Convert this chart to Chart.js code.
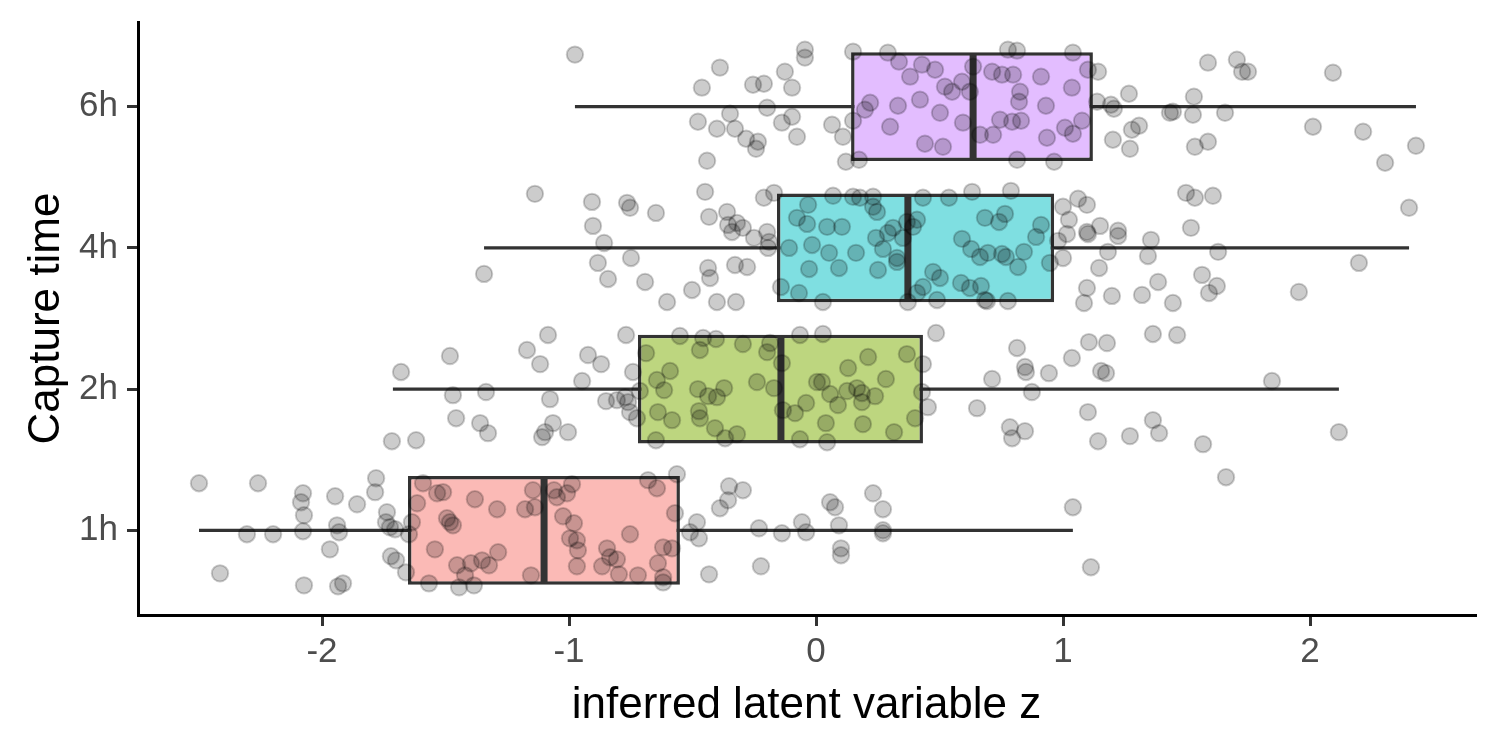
<!DOCTYPE html>
<html>
<head>
<meta charset="utf-8">
<title>Capture time vs inferred latent variable z</title>
<script src="https://cdn.jsdelivr.net/npm/chart.js@4.4.0/dist/chart.umd.min.js"></script>
<style>
  html, body { margin: 0; padding: 0; background: #ffffff; }
  #wrap { width: 1500px; height: 750px; }
</style>
</head>
<body>
<div id="wrap"><canvas id="myChart" width="1500" height="750"></canvas></div>
<script>
// categories (bottom to top) and x tick values
const categories = ["1h", "2h", "4h", "6h"];
const xTicks = [-2, -1, 0, 1, 2];

// box statistics per category
const q1 = [-1.652, -0.721, -0.158, 0.142];
const medians = [-1.101, -0.142, 0.372, 0.636];
const q3 = [-0.551, 0.433, 0.964, 1.121];
const whiskerLow = [-2.498, -1.713, -1.344, -0.976];
const whiskerHigh = [1.040, 2.117, 2.401, 2.429];

// jittered points: z value and vertical jitter (in category units)
const z1h = [-2.498,-2.259,-2.077,-2.085,-2.073,-1.947,-1.858,-1.781,-1.785,-1.737,
  -1.741,-1.725,-1.704,-1.636,-1.648,-2.304,-2.198,-2.077,-1.939,-1.931,
  -1.968,-2.413,-2.073,-1.935,-1.915,-1.721,-1.700,-1.660,-1.591,-1.615,
  -1.534,-1.510,-1.494,-1.482,-1.470,-1.381,-1.291,-1.178,-1.146,-1.138,
  -1.543,-1.453,-1.397,-1.352,-1.324,-1.287,-1.421,-1.567,-1.445,-1.385,
  -1.154,-1.061,-1.049,-1.008,-0.988,-1.024,-0.980,-0.996,-0.968,-0.964,
  -0.753,-0.968,-0.866,-0.846,-0.834,-0.806,-0.798,-0.721,-0.680,-0.644,
  -0.563,-0.571,-0.619,-0.583,-0.640,-0.619,-0.619,
  -0.352,-0.296,-0.356,-0.389,-0.482,-0.510,-0.474,-0.231,-0.138,-0.057,
  -0.040,0.057,0.077,0.231,0.271,0.093,0.271,0.271,0.101,0.101,-0.223,
  -0.433,1.040,1.113,1.660];
const jit1h = [0.333,0.333,0.262,0.199,0.106,0.241,0.184,0.369,0.270,0.128,
  0.057,0.021,0.007,0.057,-0.028,-0.028,-0.028,-0.007,0.035,-0.014,
  -0.135,-0.305,-0.390,-0.397,-0.376,-0.184,-0.213,-0.298,0.333,0.191,
  0.262,0.270,0.085,0.057,0.035,0.220,0.149,0.149,0.284,0.163,
  -0.135,-0.248,-0.234,-0.213,-0.248,-0.156,-0.319,-0.376,-0.404,-0.390,
  -0.319,0.284,0.234,0.262,0.326,0.099,0.050,-0.057,-0.071,-0.142,
  -0.028,-0.255,-0.255,-0.128,-0.191,-0.206,-0.312,-0.319,0.355,0.298,
  0.397,0.121,-0.121,-0.128,-0.234,-0.333,-0.369,
  0.312,0.284,0.213,0.156,0.057,-0.014,-0.057,0.014,-0.021,0.057,
  -0.014,0.199,0.163,0.262,0.149,0.035,0,-0.021,-0.128,-0.177,-0.255,
  -0.312,0.163,-0.262,0.376];

const z2h = [-1.680,-1.482,-1.170,-1.085,-1.117,-0.923,-0.870,-0.769,-0.947,-0.741,
  -1.470,-1.336,-1.077,-1.457,-1.360,-1.328,-1.717,-1.619,-1.109,-1.097,
  -1.065,-1.004,-0.850,-0.806,-0.773,-0.761,-0.753,-0.725,-0.713,-0.688,
  -0.644,-0.591,-0.615,-0.640,-0.583,-0.648,-0.551,-0.470,-0.457,-0.405,
  -0.296,-0.198,-0.186,-0.239,-0.170,-0.478,-0.437,-0.401,-0.372,-0.474,
  -0.470,-0.409,-0.368,-0.320,-0.138,-0.134,-0.085,-0.040,-0.065,0.028,
  0.004,0.024,0.057,0.089,0.130,0.126,0.166,0.186,0.186,0.211,
  0.040,0.045,-0.065,0.190,
  0.486,0.368,0.433,0.283,0.239,0.429,0.453,0.401,0.316,0.814,
  0.846,0.850,0.713,0.943,0.874,1.036,1.105,1.178,1.154,1.174,
  1.364,1.462,0.652,0.785,0.794,0.846,1.101,1.142,1.271,1.364,
  1.389,1.567,1.846,2.117];
const jit2h = [0.121,0.234,0.277,0.383,0.177,0.241,0.177,0.383,0.057,0.121,
  -0.043,-0.021,-0.071,-0.206,-0.241,-0.312,-0.369,-0.362,-0.340,-0.305,
  -0.241,-0.305,-0.085,-0.078,-0.057,-0.092,-0.163,-0.206,-0.014,0.255,
  0.064,0.128,-0.007,-0.163,-0.220,-0.362,0.376,0.277,0.362,0.355,
  0.319,0.262,0.326,0.050,0.007,0,-0.050,-0.057,0.007,-0.156,
  -0.206,-0.277,-0.348,-0.319,0.184,-0.149,-0.170,-0.099,0.383,0.390,
  0.050,0.050,-0.035,-0.113,0.149,-0.014,0.007,-0.028,-0.092,0.227,
  -0.241,-0.376,-0.355,-0.248,
  0.397,0.248,0.177,0.071,-0.050,-0.021,-0.128,-0.206,-0.305,0.291,
  0.156,0.121,0.071,0.113,-0.021,0.220,0.333,0.326,0.128,0.113,
  0.390,0.383,-0.135,-0.270,-0.348,-0.298,-0.163,-0.369,-0.333,-0.220,
  -0.312,-0.390,0.057,-0.305];

const z4h = [-1.138,-0.907,-0.765,-0.753,-0.648,-0.449,-0.211,-0.170,-0.903,-0.858,
  -0.433,-0.360,-0.356,-0.320,-0.340,-0.296,-0.251,-0.198,-0.190,-0.194,
  -1.344,-0.883,-0.749,-0.842,-0.692,-0.603,-0.502,-0.437,-0.429,-0.328,
  -0.279,-0.401,-0.324,-0.142,-0.069,0.028,-0.032,-0.077,-0.036,0.045,
  0.105,0.069,0.150,0.178,0.231,0.231,0.247,0.243,0.291,0.312,
  0.352,0.368,0.409,0.393,0.433,-0.109,-0.016,0.053,0.162,0.271,
  0.328,0.328,-0.028,0.093,0.251,0.372,0.409,0.433,
  0.538,0.632,0.789,0.684,0.741,0.765,0.911,0.891,0.591,0.628,
  0.664,0.696,0.753,0.769,0.842,0.818,0.474,0.502,0.587,0.623,
  0.668,0.490,0.684,0.692,0.777,0.947,0.980,1.000,1.061,1.097,
  1.024,1.016,1.000,1.097,1.101,1.150,1.223,1.223,1.182,1.146,
  1.097,1.085,1.198,1.320,1.385,1.445,1.356,1.344,1.498,1.534,
  1.607,1.518,1.628,1.563,1.623,1.591,1.955,2.198,2.401];
const jit4h = [0.383,0.326,0.319,0.284,0.248,0.397,0.355,0.390,0.156,0.035,
  0.220,0.255,0.163,0.177,0.113,0.142,0.071,0.113,0.043,0,
  -0.184,-0.106,-0.071,-0.220,-0.241,-0.383,-0.298,-0.142,-0.213,-0.121,
  -0.135,-0.383,-0.383,-0.277,-0.319,-0.383,0.305,0.213,0.170,0.149,
  0.149,0.369,0.362,0.355,0.362,0.291,0.255,0.071,0.106,0.142,
  0.071,0.184,0.199,0.149,0.355,0,0.021,-0.035,-0.035,-0.007,
  -0.071,-0.099,-0.149,-0.142,-0.156,-0.383,-0.319,-0.277,
  0.355,0.397,0.404,0.213,0.184,0.241,0.163,0.078,0.064,-0.007,
  -0.064,-0.035,-0.043,-0.064,-0.028,-0.135,-0.170,-0.213,-0.248,-0.284,
  -0.270,-0.369,-0.369,-0.376,-0.376,-0.106,0.050,0.291,0.348,0.305,
  0.199,0.099,-0.071,0.113,0.099,0.156,0.121,0.085,-0.028,-0.142,
  -0.284,-0.390,-0.340,-0.333,-0.241,-0.390,0.057,-0.057,0.390,0.355,
  0.369,0.142,-0.028,-0.191,-0.270,-0.319,-0.312,-0.106,0.284];

const z6h = [-0.976,-0.389,-0.462,-0.255,-0.211,-0.045,-0.045,-0.126,-0.097,0.150,
  0.291,0.336,0.429,0.482,0.381,0.522,0.551,0.591,0.623,0.636,
  -0.348,-0.198,-0.478,-0.401,-0.328,-0.283,-0.235,-0.243,-0.138,-0.097,
  -0.077,0.065,0.109,-0.441,0.121,0.174,0.150,0.198,0.219,0.332,
  0.421,0.502,0.300,0.595,0.441,0.514,0.664,
  0.777,0.814,1.040,0.713,0.753,0.798,0.911,0.826,0.822,1.036,
  1.101,1.142,0.931,0.745,0.794,0.830,0.717,0.935,1.008,1.040,
  1.077,0.814,0.964,1.138,1.194,1.206,1.267,1.202,1.271,1.279,
  1.308,1.433,1.445,1.530,1.526,1.656,1.587,1.704,1.725,1.749,
  2.093,1.534,1.587,2.012,2.215,2.304,2.429];
const jit6h = [0.369,0.277,0.135,0.156,0.163,0.404,0.348,0.248,0.135,0.390,
  0.383,0.319,0.298,0.262,0.213,0.142,0.106,0.177,0.106,0.284,
  -0.050,-0.007,-0.106,-0.156,-0.156,-0.227,-0.248,-0.298,-0.113,-0.071,
  -0.213,-0.128,-0.213,-0.383,-0.390,-0.376,-0.099,-0.021,0.028,0.007,
  0.050,-0.043,-0.142,-0.113,-0.262,-0.284,-0.199,
  0.404,0.397,0.383,0.248,0.227,0.227,0.213,0.106,0.035,0.135,
  0.262,0.248,0.007,-0.092,-0.106,-0.099,-0.199,-0.220,-0.149,-0.191,
  -0.099,-0.376,-0.390,0.035,0.014,-0.014,0.092,-0.234,-0.298,-0.163,
  -0.135,-0.043,-0.035,0.071,-0.057,-0.043,0.312,0.333,0.248,0.248,
  0.241,-0.284,-0.248,-0.142,-0.177,-0.397,-0.277];

const pointsZ = [z1h, z2h, z4h, z6h];
const pointsJit = [jit1h, jit2h, jit4h, jit6h];

// styles
const boxFill = ["#fbbab6", "#bdd67f", "#7fdfe1", "#e3bdff"];
const lineCol = "#333333";
const boxHalf = 0.375;
const fontFam = "'Liberation Sans', Arial, Helvetica, sans-serif";

// building the datasets
let scatterData = [];
categories.forEach(function (c, i) {
  pointsZ[i].forEach(function (z, k) {
    scatterData.push({ x: z, y: i + 1 + pointsJit[i][k] });
  });
});

let datasets = [];

datasets.push({
  type: "scatter",
  label: "points",
  data: scatterData,
  pointRadius: 8.2,
  pointHoverRadius: 8.2,
  backgroundColor: "rgba(0,0,0,0.2)",
  borderColor: "rgba(0,0,0,0.2)",
  borderWidth: 2,
  order: 0,
});

categories.forEach(function (c, i) {
  // median line
  datasets.push({
    type: "line",
    label: "median " + c,
    data: [
      { x: medians[i], y: i + 1 - boxHalf },
      { x: medians[i], y: i + 1 + boxHalf },
    ],
    borderColor: lineCol,
    borderWidth: 7,
    borderCapStyle: "butt",
    pointRadius: 0,
    fill: false,
    order: 1,
  });
  // whisker
  datasets.push({
    type: "line",
    label: "whisker " + c,
    data: [
      { x: whiskerLow[i], y: i + 1 },
      { x: whiskerHigh[i], y: i + 1 },
    ],
    borderColor: lineCol,
    borderWidth: 3.3,
    borderCapStyle: "butt",
    pointRadius: 0,
    fill: false,
    order: 3,
  });
});

datasets.push({
  type: "bar",
  label: "box",
  indexAxis: "y",
  data: categories.map(function (c, i) {
    return { y: i + 1, x: [q1[i], q3[i]] };
  }),
  backgroundColor: boxFill,
  borderColor: lineCol,
  borderWidth: 3.5,
  borderSkipped: false,
  grouped: false,
  categoryPercentage: 1,
  barPercentage: 0.77,
  order: 2,
});

const config = {
  type: "scatter",
  data: { datasets: datasets },
  options: {
    responsive: false,
    animation: false,
    events: [],
    layout: { padding: { left: 0, top: 22, right: 25, bottom: 0 } },
    plugins: { legend: { display: false }, tooltip: { enabled: false } },
    scales: {
      x: {
        type: "linear",
        min: -2.745,
        max: 2.668,
        afterBuildTicks: function (ax) {
          ax.ticks = xTicks.map(function (v) { return { value: v }; });
        },
        afterFit: function (ax) {
          ax.height = 135;
          ax.paddingLeft = 0;
          ax.paddingRight = 0;
        },
        ticks: {
          autoSkip: false,
          maxRotation: 0,
          padding: 5,
          color: "#4d4d4d",
          font: { family: fontFam, size: 35 },
          callback: function (v) { return String(v); },
        },
        grid: {
          display: true,
          drawOnChartArea: false,
          drawTicks: true,
          tickLength: 11,
          color: lineCol,
          lineWidth: 3,
        },
        border: { display: true, color: "#000000", width: 3 },
        title: {
          display: true,
          text: "inferred latent variable z",
          color: "#000000",
          font: { family: fontFam, size: 44 },
          padding: { top: 0, bottom: 18 },
        },
      },
      y: {
        type: "linear",
        min: 0.4,
        max: 4.6,
        offset: false,
        afterBuildTicks: function (ax) {
          ax.ticks = categories.map(function (c, i) { return { value: i + 1 }; });
        },
        afterFit: function (ax) {
          ax.width = 138;
          ax.paddingTop = 0;
          ax.paddingBottom = 0;
        },
        ticks: {
          autoSkip: false,
          padding: 9,
          color: "#4d4d4d",
          font: { family: fontFam, size: 35 },
          callback: function (v) { return categories[v - 1]; },
        },
        grid: {
          display: true,
          offset: false,
          drawOnChartArea: false,
          drawTicks: true,
          tickLength: 11,
          color: lineCol,
          lineWidth: 3,
        },
        border: { display: true, color: "#000000", width: 3 },
        title: {
          display: true,
          text: "Capture time",
          color: "#000000",
          font: { family: fontFam, size: 44 },
          padding: { top: 20, bottom: 0 },
        },
      },
    },
  },
};

var boxChart = new Chart(document.getElementById("myChart"), config);
</script>
</body>
</html>
